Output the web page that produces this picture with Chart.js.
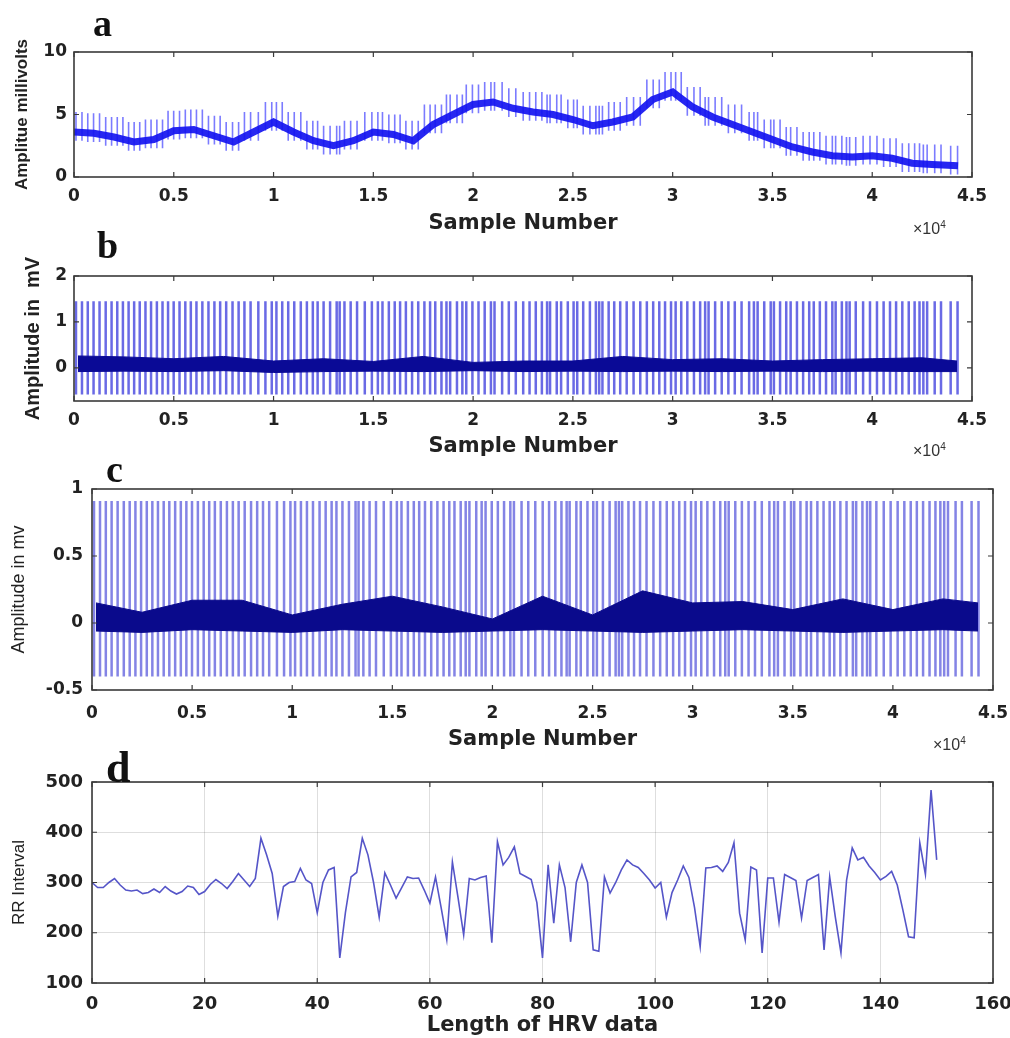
<!DOCTYPE html>
<html>
<head>
<meta charset="utf-8">
<script src="https://cdn.jsdelivr.net/npm/chart.js@4.4.1/dist/chart.umd.min.js"></script>
<style>
  body { margin: 0; background: #fff; width: 1010px; height: 1038px; position: relative; overflow: hidden; font-family: "Liberation Sans", Arial, sans-serif; }
  canvas { position: absolute; left: 0; }
  .tag { position: absolute; font-family: "Liberation Serif", "Times New Roman", serif; font-weight: bold; color: #111; line-height: 1; }
  .exp { position: absolute; font-size: 16px; color: #333; }
  .exp sup { font-size: 10px; }
</style>
</head>
<body>
<canvas id="chartA" width="1010" height="220" style="top:20px"></canvas>
<canvas id="chartB" width="1010" height="220" style="top:240px"></canvas>
<canvas id="chartC" width="1010" height="295" style="top:460px"></canvas>
<canvas id="chartD" width="1010" height="283" style="top:755px"></canvas>

<div class="tag" style="left:93px;top:4px;font-size:38px">a</div>
<div class="tag" style="left:97px;top:226px;font-size:38px">b</div>
<div class="tag" style="left:106px;top:450px;font-size:38px">c</div>
<div class="tag" style="left:106px;top:746px;font-size:44px">d</div>
<div class="exp" style="left:913px;top:219px">&times;10<sup>4</sup></div>
<div class="exp" style="left:913px;top:441px">&times;10<sup>4</sup></div>
<div class="exp" style="left:933px;top:735px">&times;10<sup>4</sup></div>

<script>
// RR intervals (samples)
const rrInterval = [
  300, 290, 290, 300, 308, 295, 285, 283, 285, 278,
  280, 287, 280, 292, 283, 277, 282, 293, 290, 276,
  282, 296, 306, 298, 288, 302, 318, 305, 292, 308,
  388, 355, 318, 233, 292, 300, 302, 328, 305, 298,
  240, 300, 325, 330, 150, 240, 311, 320, 388, 355,
  300, 231, 319, 295, 269, 290, 311, 308, 309, 285,
  259, 311, 250, 186, 341, 270, 196, 308, 305, 310,
  313, 180, 381, 335, 350, 371, 318, 312, 306, 260,
  150, 335, 219, 335, 290, 182, 300, 335, 300, 166,
  163, 311, 279, 300, 325, 345, 335, 330, 318, 305,
  289, 300, 231, 280, 305, 333, 310, 250, 172, 329,
  330, 333, 322, 340, 379, 239, 186, 331, 325, 160,
  309, 309, 221, 316, 310, 304, 229, 304, 310, 316,
  166, 311, 231, 160, 305, 369, 345, 350, 333, 320,
  305, 312, 322, 295, 245, 192, 190, 379, 316, 484, 345
];
const firstBeat = 100; // sample number of first R peak

// panel a: baseline wander of the raw ECG (mV), read every 1000 samples
const baseX = [
  0, 1000, 2000, 3000, 4000, 5000, 6000, 7000, 8000, 9000,
  10000, 11000, 12000, 13000, 14000, 15000, 16000, 17000, 18000, 19000,
  20000, 21000, 22000, 23000, 24000, 25000, 26000, 27000, 28000, 29000,
  30000, 31000, 32000, 33000, 34000, 35000, 36000, 37000, 38000, 39000,
  40000, 41000, 42000, 43000, 44300
];
const baselineA = [
  3.6, 3.5, 3.2, 2.8, 3.0, 3.7, 3.8, 3.3, 2.8, 3.6,
  4.4, 3.6, 2.9, 2.5, 2.9, 3.6, 3.4, 2.9, 4.2, 5.0,
  5.8, 6.0, 5.5, 5.2, 5.0, 4.6, 4.1, 4.4, 4.8, 6.2,
  6.8, 5.6, 4.8, 4.2, 3.6, 3.0, 2.4, 2.0, 1.7, 1.6,
  1.7, 1.5, 1.1, 1.0, 0.9
];
const spikeUpA = 1.6;
const spikeDownA = -0.7;

// panels b and c: dense low-amplitude band around the isoelectric line
const bandX = [200, 2500, 5000, 7500, 10000, 12500, 15000, 17500, 20000, 22500,
  25000, 27500, 30000, 32500, 35000, 37500, 40000, 42500, 44250];
const bandTopB = [0.26, 0.24, 0.2, 0.25, 0.15, 0.2, 0.14, 0.25, 0.12, 0.15,
  0.15, 0.25, 0.18, 0.2, 0.15, 0.18, 0.2, 0.22, 0.15];
const bandBotB = [-0.08, -0.07, -0.08, -0.06, -0.1, -0.08, -0.07, -0.08, -0.06, -0.08,
  -0.07, -0.08, -0.07, -0.08, -0.07, -0.08, -0.07, -0.08, -0.08];
const peakB = 1.45, troughB = -0.58;

const bandTopC = [0.15, 0.08, 0.17, 0.17, 0.06, 0.14, 0.2, 0.12, 0.03, 0.2,
  0.06, 0.24, 0.15, 0.16, 0.1, 0.18, 0.1, 0.18, 0.15];
const bandBotC = [-0.06, -0.07, -0.05, -0.06, -0.07, -0.05, -0.06, -0.07, -0.06, -0.05,
  -0.06, -0.07, -0.06, -0.05, -0.06, -0.07, -0.06, -0.05, -0.06];
const peakC = 0.91, troughC = -0.4;

// tick labels
const xTicksSample = [0, 5000, 10000, 15000, 20000, 25000, 30000, 35000, 40000, 45000];
const yTicksA = [0, 5, 10];
const yTicksB = [0, 1, 2];
const yTicksC = [-0.5, 0, 0.5, 1];
const xTicksHRV = [0, 20, 40, 60, 80, 100, 120, 140, 160];
const yTicksHRV = [100, 200, 300, 400, 500];

// beat positions from the RR series
const beats = [firstBeat];
rrInterval.forEach((rr, i) => beats.push(beats[i] + rr));

function spikes(lo, hi) {
  return beats.flatMap(b => [{ x: b, y: lo(b) }, { x: b, y: hi(b) }, { x: b, y: null }]);
}
function nearestBase(b) {
  return baselineA[Math.min(baselineA.length - 1, Math.round(b / 1000))];
}
const pts = (xs, ys) => xs.map((x, i) => ({ x, y: ys[i] }));

const boxPlugin = {
  id: 'box',
  afterDraw(chart) {
    const { ctx, chartArea: a, scales: { x, y } } = chart;
    ctx.save();
    ctx.strokeStyle = '#3a3a3a';
    ctx.lineWidth = 1.6;
    ctx.strokeRect(a.left, a.top, a.right - a.left, a.bottom - a.top);
    ctx.lineWidth = 1.2;
    ctx.beginPath();
    x.ticks.forEach(t => {
      const px = x.getPixelForValue(t.value);
      ctx.moveTo(px, a.bottom); ctx.lineTo(px, a.bottom - 5);
      ctx.moveTo(px, a.top); ctx.lineTo(px, a.top + 5);
    });
    y.ticks.forEach(t => {
      const py = y.getPixelForValue(t.value);
      ctx.moveTo(a.left, py); ctx.lineTo(a.left + 5, py);
      ctx.moveTo(a.right, py); ctx.lineTo(a.right - 5, py);
    });
    ctx.stroke();
    ctx.restore();
  }
};

const fam = '"Liberation Sans", Arial, sans-serif';
const wide = '"DejaVu Sans", Verdana, sans-serif';
const textColor = '#222';

function buildChart(id, o) {
  return new Chart(document.getElementById(id), {
    type: 'line',
    data: { datasets: o.datasets },
    options: {
      responsive: false,
      animation: false,
      layout: { padding: { left: 0, right: o.right, top: o.top, bottom: 0 } },
      plugins: { legend: { display: false }, tooltip: { enabled: false } },
      elements: { point: { radius: 0 }, line: { tension: 0 } },
      scales: {
        x: {
          type: 'linear', min: o.xMin, max: o.xMax,
          afterBuildTicks: s => { s.ticks = o.xTicks.map(v => ({ value: v })); },
          afterFit: s => { s.height = o.xHeight; s.paddingLeft = 0; s.paddingRight = 0; },
          grid: { display: !!o.grid, drawTicks: false, color: 'rgba(0,0,0,0.13)' },
          border: { display: false },
          ticks: { padding: o.xPad, autoSkip: false, maxRotation: 0, color: textColor,
            font: { family: wide, size: o.tickSize, weight: 'bold' }, callback: o.xFmt || (v => String(v)) },
          title: { display: true, text: o.xTitle, color: textColor,
            font: { family: wide, size: 21, weight: 'bold' }, padding: { top: 0, bottom: o.xTitlePad } }
        },
        y: {
          type: 'linear', min: o.yMin, max: o.yMax,
          afterBuildTicks: s => { s.ticks = o.yTicks.map(v => ({ value: v })); },
          afterFit: s => { s.width = o.yWidth; s.paddingTop = 0; s.paddingBottom = 0; },
          grid: { display: !!o.grid, drawTicks: false, color: 'rgba(0,0,0,0.13)' },
          border: { display: false },
          ticks: { padding: o.yPad, autoSkip: false, color: textColor,
            font: { family: wide, size: o.tickSize, weight: 'bold' }, callback: v => String(v) },
          title: { display: true, text: o.yTitle, color: textColor,
            font: { family: fam, size: o.yTitleSize, weight: o.yTitleWeight }, padding: { top: o.yTitlePad, bottom: 0 } }
        }
      }
    },
    plugins: [boxPlugin]
  });
}

const sampleFmt = v => String(v / 10000);

// a: raw ECG with baseline wander
buildChart('chartA', {
  right: 38, top: 32, xHeight: 63, yWidth: 74, tickSize: 17,
  xMin: 0, xMax: 45000, yMin: 0, yMax: 10,
  xTicks: xTicksSample, yTicks: yTicksA, xFmt: sampleFmt,
  xPad: 9, yPad: 7, xTitle: 'Sample Number', xTitlePad: 4,
  yTitle: 'Amplitue millivolts', yTitleSize: 17, yTitleWeight: 'bold', yTitlePad: 12,
  datasets: [
    { data: pts(baseX, baselineA), borderColor: 'rgba(20,20,240,0.92)', borderWidth: 7 },
    { data: spikes(b => nearestBase(b) + spikeDownA, b => nearestBase(b) + spikeUpA),
      borderColor: 'rgba(60,60,255,0.68)', borderWidth: 1.6, spanGaps: false }
  ]
});

// b: filtered ECG
buildChart('chartB', {
  right: 38, top: 36, xHeight: 59, yWidth: 74, tickSize: 17,
  xMin: 0, xMax: 45000, yMin: -0.72, yMax: 2,
  xTicks: xTicksSample, yTicks: yTicksB, xFmt: sampleFmt,
  xPad: 9, yPad: 7, xTitle: 'Sample Number', xTitlePad: 1,
  yTitle: 'Amplitude in  mV', yTitleSize: 20, yTitleWeight: 'bold', yTitlePad: 21,
  datasets: [
    { data: pts(bandX, bandTopB), borderColor: 'rgb(10,10,150)', borderWidth: 1,
      backgroundColor: 'rgb(10,10,150)', fill: '+1' },
    { data: pts(bandX, bandBotB), borderColor: 'rgb(10,10,150)', borderWidth: 1 },
    { data: spikes(() => troughB, () => peakB),
      borderColor: 'rgba(80,80,225,0.85)', borderWidth: 2.5, spanGaps: false }
  ]
});

// c: normalised ECG
buildChart('chartC', {
  right: 17, top: 29, xHeight: 65, yWidth: 92, tickSize: 17,
  xMin: 0, xMax: 45000, yMin: -0.5, yMax: 1,
  xTicks: xTicksSample, yTicks: yTicksC, xFmt: sampleFmt,
  xPad: 13, yPad: 9, xTitle: 'Sample Number', xTitlePad: 3,
  yTitle: 'Amplitude in mv', yTitleSize: 18, yTitleWeight: 'normal', yTitlePad: 8,
  datasets: [
    { data: pts(bandX, bandTopC), borderColor: 'rgb(10,10,140)', borderWidth: 1,
      backgroundColor: 'rgb(10,10,140)', fill: '+1' },
    { data: pts(bandX, bandBotC), borderColor: 'rgb(10,10,140)', borderWidth: 1 },
    { data: spikes(() => troughC, () => peakC),
      borderColor: 'rgba(110,110,225,0.85)', borderWidth: 2.5, spanGaps: false }
  ]
});

// d: RR interval series
buildChart('chartD', {
  right: 17, top: 27, xHeight: 55, yWidth: 92, grid: true, tickSize: 18,
  xMin: 0, xMax: 160, yMin: 100, yMax: 500,
  xTicks: xTicksHRV, yTicks: yTicksHRV,
  xPad: 11, yPad: 9, xTitle: 'Length of HRV data', xTitlePad: 0,
  yTitle: 'RR Interval', yTitleSize: 17, yTitleWeight: 'normal', yTitlePad: 9,
  datasets: [
    { data: pts(rrInterval.map((_, i) => i), rrInterval), borderColor: 'rgb(85,85,200)', borderWidth: 1.6 }
  ]
});
</script>
</body>
</html>
